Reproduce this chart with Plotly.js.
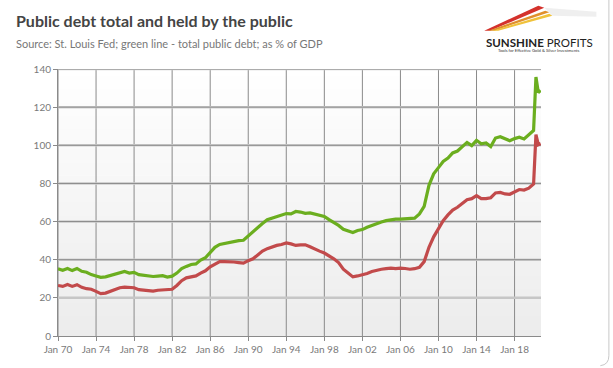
<!DOCTYPE html>
<html>
<head>
<meta charset="utf-8">
<script src="https://cdn.plot.ly/plotly-3.0.1.min.js"></script>
<style>
html,body{margin:0;padding:0;background:#fff;}
#chart{width:613px;height:368px;}
</style>
</head>
<body>
<div id="chart"></div>
<script>
// Dates (half-yearly readings, quarterly in 2020)
var dates = [
"1970-01-01","1970-07-01","1971-01-01","1971-07-01","1972-01-01","1972-07-01","1973-01-01","1973-07-01",
"1974-01-01","1974-07-01","1975-01-01","1975-07-01","1976-01-01","1976-07-01","1977-01-01","1977-07-01",
"1978-01-01","1978-07-01","1979-01-01","1979-07-01","1980-01-01","1980-07-01","1981-01-01","1981-07-01",
"1982-01-01","1982-07-01","1983-01-01","1983-07-01","1984-01-01","1984-07-01","1985-01-01","1985-07-01",
"1986-01-01","1986-07-01","1987-01-01","1987-07-01","1988-01-01","1988-07-01","1989-01-01","1989-07-01",
"1990-01-01","1990-07-01","1991-01-01","1991-07-01","1992-01-01","1992-07-01","1993-01-01","1993-07-01",
"1994-01-01","1994-07-01","1995-01-01","1995-07-01","1996-01-01","1996-07-01","1997-01-01","1997-07-01",
"1998-01-01","1998-07-01","1999-01-01","1999-07-01","2000-01-01","2000-07-01","2001-01-01","2001-07-01",
"2002-01-01","2002-07-01","2003-01-01","2003-07-01","2004-01-01","2004-07-01","2005-01-01","2005-07-01",
"2006-01-01","2006-07-01","2007-01-01","2007-07-01","2008-01-01","2008-07-01","2009-01-01","2009-07-01",
"2010-01-01","2010-07-01","2011-01-01","2011-07-01","2012-01-01","2012-07-01","2013-01-01","2013-07-01",
"2014-01-01","2014-07-01","2015-01-01","2015-07-01","2016-01-01","2016-07-01","2017-01-01","2017-07-01",
"2018-01-01","2018-07-01","2019-01-01","2019-07-01","2020-01-01","2020-04-01","2020-07-01","2020-10-01"
];
// Total public debt, % of GDP (green)
var totalDebt = [
35.2,34.5,35.4,34.3,35.4,33.9,33.4,32.2,
31.5,30.8,31.0,31.8,32.6,33.3,33.8,33.0,
33.4,32.2,31.8,31.2,31.2,31.4,31.6,30.9,
31.4,33.0,35.3,36.5,37.5,37.8,39.8,41.0,
44.0,46.5,48.0,48.5,49.3,49.6,50.0,50.2,
52.5,54.5,57.0,59.0,61.0,61.8,62.8,63.8,
64.2,64.0,65.3,65.0,64.3,64.5,64.0,63.3,
62.7,61.0,59.5,58.0,56.0,55.0,54.3,55.3,
55.8,57.0,58.0,59.0,59.8,60.5,61.0,61.3,
61.3,61.6,61.8,61.8,64.0,68.0,79.0,85.0,
88.3,91.5,93.3,96.0,97.0,99.5,101.5,99.8,
102.6,100.8,101.2,99.3,103.8,104.5,103.5,102.4,
103.5,104.2,103.3,105.5,107.8,135.8,127.7,128.8
];
// Debt held by the public, % of GDP (red)
var heldByPublic = [
26.5,26.0,27.0,26.0,26.9,25.5,24.8,24.5,
23.4,22.2,22.5,23.5,24.6,25.3,25.6,25.3,
25.3,24.3,24.0,23.5,23.5,24.0,24.2,24.3,
24.5,26.5,29.0,30.5,31.0,31.5,33.0,34.2,
36.3,37.8,39.0,39.0,39.0,38.8,38.5,38.2,
39.5,40.5,42.5,44.5,45.8,46.8,47.5,48.0,
48.8,48.3,47.5,47.8,47.8,46.8,45.5,44.5,
43.5,42.0,40.5,38.5,35.0,33.0,31.0,31.5,
32.0,32.8,33.8,34.5,35.0,35.3,35.6,35.3,
35.6,35.4,35.0,35.3,36.0,39.0,46.5,52.0,
56.0,60.5,63.5,66.0,67.5,69.5,71.5,72.0,
73.6,72.0,72.0,72.5,75.0,75.3,74.5,74.3,
75.5,76.8,76.5,77.5,79.7,105.6,100.3,100.8
];
var tickDates = ["1970-01-01","1974-01-01","1978-01-01","1982-01-01","1986-01-01","1990-01-01","1994-01-01",
"1998-01-01","2002-01-01","2006-01-01","2010-01-01","2014-01-01","2018-01-01"];
var tickLabels = ["Jan 70","Jan 74","Jan 78","Jan 82","Jan 86","Jan 90","Jan 94",
"Jan 98","Jan 02","Jan 06","Jan 10","Jan 14","Jan 18"];
var yTicks = [0,20,40,60,80,100,120,140];

// plot area in pixels
var L = 58.3, R = 540.7, T = 69.3, B = 336.3, W = 613, H = 368;
var xStart = '1970-01-01', xEnd = '2020-10-12';
function px(x){ return (x - L) / (R - L); }
function py(y){ return (B - y) / (B - T); }

var traces = [
  {x: dates, y: totalDebt, type: 'scatter', mode: 'lines', name: 'Total public debt',
   line: {color: '#6bae1f', width: 3.2}, hoverinfo: 'skip'},
  {x: dates, y: heldByPublic, type: 'scatter', mode: 'lines', name: 'Held by the public',
   line: {color: '#c24a4b', width: 3.2}, hoverinfo: 'skip'}
];

function pathShape(d, fill, op){
  return {type:'path', xref:'paper', yref:'paper', path:d, fillcolor:fill, line:{width:0}, opacity: op===undefined?1:op, layer:'above'};
}
function P(pts){
  var s = '';
  for (var i=0;i<pts.length;i++){ s += (i===0?'M':'L') + px(pts[i][0]) + ',' + py(pts[i][1]) + ' '; }
  return s + 'Z';
}

var shapes = [];
// background gradient: light grey at top fading to white at the bottom
var nBands = 40;
for (var b = 0; b < nBands; b++) {
  var f0 = b / nBands, f1 = (b + 1) / nBands;
  var t = 1 - (f0 + f1) / 2;            // 1 at top, 0 at bottom
  var c = Math.round(255 - 19 * t);
  shapes.push({type:'rect', xref:'paper', yref:'paper', x0:0, x1:1, y0:f0, y1:f1 + 0.002,
               fillcolor:'rgb(' + c + ',' + c + ',' + c + ')', line:{width:0}, layer:'below'});
}
// grid lines drawn from the tick arrays
tickDates.forEach(function(d){
  shapes.push({type:'line', xref:'x', yref:'paper', x0:d, x1:d, y0:0, y1:1,
               line:{color:'#8a8a8a', width:1}, layer:'below'});
});
yTicks.forEach(function(v){
  if (v === 0) return;
  if (v === 20) {
    shapes.push({type:'line', xref:'paper', yref:'y', x0:0, x1:1, y0:v, y1:v,
                 line:{color:'#c6c6c6', width:2.5}, layer:'below'});
  } else {
    shapes.push({type:'line', xref:'paper', yref:'y', x0:0, x1:1, y0:v, y1:v,
                 line:{color:'#cfcfcf', width:2.5}, layer:'below'});
    shapes.push({type:'line', xref:'paper', yref:'y', x0:0, x1:1, y0:v, y1:v,
                 line:{color:'#8a8a8a', width:1}, layer:'below'});
  }
});
shapes = shapes.concat([
  // right rounded border
  {type:'path', xref:'paper', yref:'paper',
   path: 'M' + px(608.5) + ',' + py(0) + ' L' + px(608.5) + ',' + py(356) +
         ' Q' + px(608.5) + ',' + py(365) + ' ' + px(600) + ',' + py(366),
   line:{color:'#c8c8c8', width:1}, layer:'above'},
  // logo swoosh
  pathShape(P([[484,31],[538,6],[544,8],[490,31]]), '#d4322c'),
  pathShape(P([[488,31],[545,11],[549,12.5],[494,31]]), '#e0902c'),
  pathShape(P([[492,31],[549,14],[552,16],[498,31]]), '#f0c23a'),
  pathShape(P([[544,8],[596,12],[596,17],[552,16]]), '#e8e8e8', 0.7)
]);

var layout = {
  width: W, height: H,
  margin: {l: L, r: W - R, t: T, b: H - B, pad: 0},
  paper_bgcolor: '#ffffff',
  plot_bgcolor: '#ffffff',
  showlegend: false,
  font: {family: 'Lato, "Open Sans", sans-serif', color: '#777777', size: 10},
  xaxis: {
    type: 'date', range: [xStart, xEnd],
    tickmode: 'array', tickvals: tickDates, ticktext: tickLabels,
    showgrid: false,
    showline: true, linecolor: '#8a8a8a', linewidth: 1,
    ticks: 'outside', ticklen: 4, tickcolor: '#8a8a8a',
    tickfont: {size: 10, color: '#7a7a7a'}, zeroline: false, fixedrange: true
  },
  yaxis: {
    range: [0, 140], tickmode: 'array', tickvals: yTicks,
    showgrid: false,
    showline: true, linecolor: '#8a8a8a', linewidth: 1,
    ticks: 'outside', ticklen: 4, tickcolor: '#8a8a8a',
    tickfont: {size: 10, color: '#7a7a7a'}, zeroline: false, fixedrange: true
  },
  shapes: shapes,
  annotations: [
    {text: '<b>Public debt total and held by the public</b>', xref: 'paper', yref: 'paper',
     x: px(14), y: py(21), xanchor: 'left', yanchor: 'middle', showarrow: false,
     font: {family: 'Lato, sans-serif', size: 16, color: '#444444'}},
    {text: 'Source: St. Louis Fed; green line - total public debt; as % of GDP', xref: 'paper', yref: 'paper',
     x: px(14), y: py(44), xanchor: 'left', yanchor: 'middle', showarrow: false,
     font: {family: 'Lato, sans-serif', size: 11, color: '#777777'}},
    {text: '<b>SUNSHINE</b> PROFITS', xref: 'paper', yref: 'paper',
     x: px(539), y: py(43), xanchor: 'center', yanchor: 'middle', showarrow: false,
     font: {family: 'Lato, sans-serif', size: 11.5, color: '#222222'}},
    {text: 'Tools for Effective Gold &amp; Silver Investments', xref: 'paper', yref: 'paper',
     x: px(539), y: py(51), xanchor: 'center', yanchor: 'middle', showarrow: false,
     font: {family: 'Lato, sans-serif', size: 4.2, color: '#333333'}}
  ]
};

Plotly.newPlot('chart', traces, layout, {staticPlot: true, displayModeBar: false});
</script>
</body>
</html>
